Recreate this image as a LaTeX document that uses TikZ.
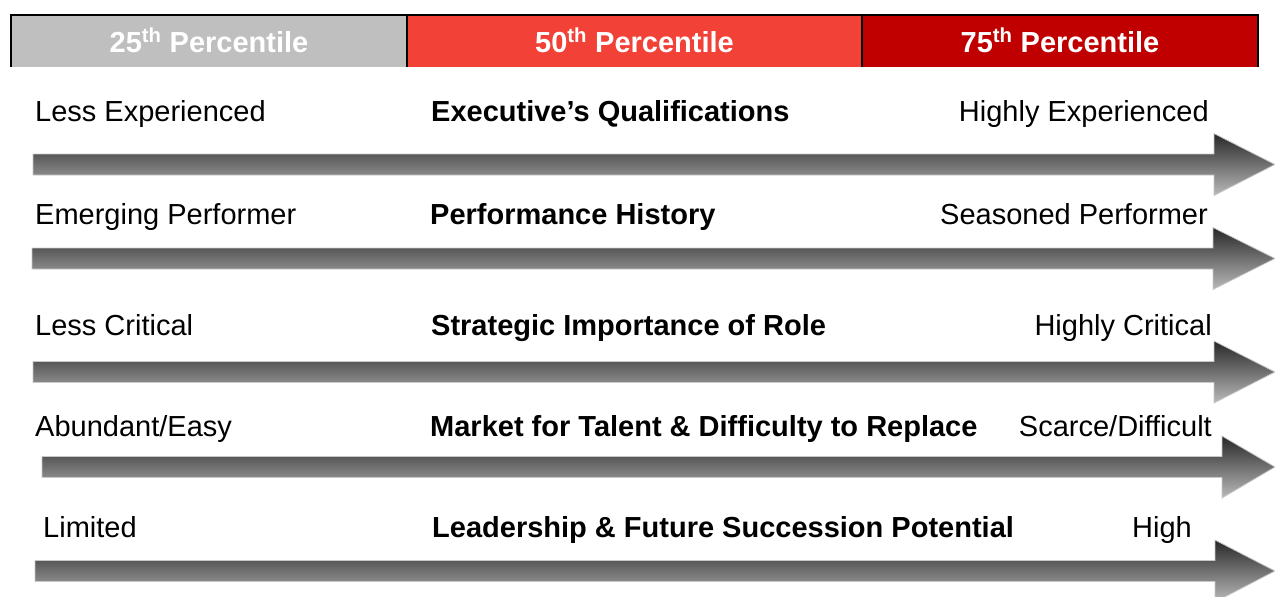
\documentclass[tikz,border=0pt]{standalone}
\usepackage{fontspec}
\setmainfont{Liberation Sans}
\definecolor{hdrgray}{RGB}{191,191,191}
\definecolor{hdrred}{RGB}{242,65,54}
\definecolor{hdrdark}{RGB}{192,0,0}
\definecolor{arrtop}{RGB}{40,40,40}
\definecolor{arrbot}{RGB}{185,185,185}
\definecolor{arredge}{RGB}{200,200,200}
\tikzset{
  hdrtext/.style={text=white,font=\fontsize{29}{34}\selectfont\bfseries,anchor=base,inner sep=0pt},
  lefttext/.style={font=\fontsize{29}{34}\selectfont,anchor=base west,inner sep=0pt},
  midtext/.style={font=\fontsize{29}{34}\selectfont\bfseries,anchor=base west,inner sep=0pt},
  righttext/.style={font=\fontsize{29}{34}\selectfont,anchor=base east,inner sep=0pt},
  bigarrow/.style={top color=arrtop,bottom color=arrbot,draw=arredge,line width=0.8pt,line join=miter},
  hdrline/.style={draw=black,line width=2pt}
}
\begin{document}
\begin{tikzpicture}[x=1pt,y=-1pt]
\useasboundingbox (0,0) rectangle (1275,597);
\clip (0,0) rectangle (1275,597);
% header cells
\fill[hdrgray] (11,15) rectangle (407,67);
\fill[hdrred] (407,15) rectangle (862,67);
\fill[hdrdark] (862,15) rectangle (1258,67);
\draw[hdrline] (11,67) -- (11,15) -- (1258,15) -- (1258,67);
\draw[hdrline] (407,15) -- (407,67);
\draw[hdrline] (862,15) -- (862,67);
\node[hdrtext] (h1) at (209,52) {25\textsuperscript{th} Percentile};
\node[hdrtext] (h2) at (634.5,52) {50\textsuperscript{th} Percentile};
\node[hdrtext] (h3) at (1060,52) {75\textsuperscript{th} Percentile};
% arrows
\foreach \cy/\lx/\bx in {164.5/33/1214, 258.5/32/1213, 372/33/1214, 467/42/1222, 571/35/1215}{
  \path[bigarrow] (\lx,\cy-10.5) -- (\bx,\cy-10.5) -- (\bx,\cy-31) -- (1275,\cy)
     -- (\bx,\cy+31) -- (\bx,\cy+10.5) -- (\lx,\cy+10.5) -- cycle;
}
% row 1
\node[lefttext] (l1) at (35,121) {Less Experienced};
\node[midtext] (m1) at (431,121) {Executive’s Qualifications};
\node[righttext] (r1) at (1209,121) {Highly Experienced};
% row 2
\node[lefttext] (l2) at (35,224) {Emerging Performer};
\node[midtext] (m2) at (430,224) {Performance History};
\node[righttext] (r2) at (1208,224) {Seasoned Performer};
% row 3
\node[lefttext] (l3) at (35,335) {Less Critical};
\node[midtext] (m3) at (431,335) {Strategic Importance of Role};
\node[righttext] (r3) at (1212,335) {Highly Critical};
% row 4
\node[lefttext] (l4) at (35,436) {Abundant/Easy};
\node[midtext] (m4) at (430,436) {Market for Talent \& Difficulty to Replace};
\node[righttext] (r4) at (1212,436) {Scarce/Difficult};
% row 5
\node[lefttext] (l5) at (43,537) {Limited};
\node[midtext] (m5) at (432,537) {Leadership \& Future Succession Potential};
\node[righttext] (r5) at (1192,537) {High};
\end{tikzpicture}
\end{document}
